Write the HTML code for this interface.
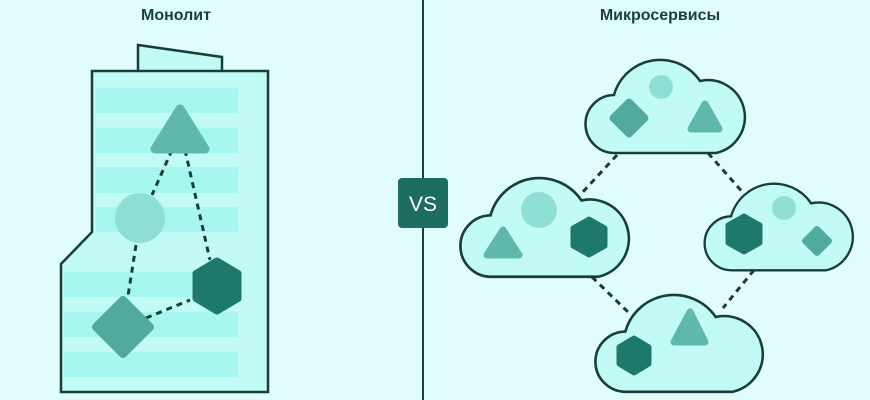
<!DOCTYPE html>
<html><head><meta charset="utf-8"><style>
html,body{margin:0;padding:0;background:#e1fdfb;}
svg{display:block}
</style></head><body>
<svg width="870" height="400" viewBox="0 0 870 400" xmlns="http://www.w3.org/2000/svg">
<rect width="870" height="400" fill="#e1fdfb"/>
<text x="176" y="20" text-anchor="middle" font-family="Liberation Sans, sans-serif" font-weight="bold" font-size="16" fill="#173f3a">Монолит</text>
<text x="660" y="20" text-anchor="middle" font-family="Liberation Sans, sans-serif" font-weight="bold" font-size="16" fill="#173f3a">Микросервисы</text>

<!-- monolith -->
<path d="M138,71 L138,45 L222,57 L222,71" fill="#c2fbf5" stroke="#173f3a" stroke-width="2.5"/>
<path d="M92,71 L268,71 L268,392 L61,392 L61,264 L92,232 Z" fill="#c2fbf5" stroke="#173f3a" stroke-width="2.5"/>
<g fill="#a6f7ef">
<rect x="96" y="88" width="142" height="25"/>
<rect x="96" y="128" width="142" height="25"/>
<rect x="96" y="167" width="142" height="26"/>
<rect x="96" y="207" width="142" height="25"/>
<rect x="64" y="272" width="174" height="25"/>
<rect x="64" y="312" width="174" height="25"/>
<rect x="64" y="352" width="174" height="25"/>
</g>
<g stroke="#173f3a" stroke-width="3" stroke-dasharray="6,5" fill="none">
<line x1="172" y1="150" x2="152" y2="195"/>
<line x1="185" y1="150" x2="210" y2="260"/>
<line x1="136" y1="245" x2="128" y2="296"/>
<line x1="146" y1="318" x2="190" y2="300"/>
</g>
<path d="M180,109 L205,149 L155,149 Z" fill="#5fb8ab" stroke="#5fb8ab" stroke-width="9" stroke-linejoin="round"/>
<circle cx="140" cy="218" r="25" fill="#8ee0d5"/>
<path d="M217,261 L238,273.5 L238,298.5 L217,311 L196,298.5 L196,273.5 Z" fill="#1e786c" stroke="#1e786c" stroke-width="7" stroke-linejoin="round"/>
<path d="M123,300 L150,327 L123,354 L96,327 Z" fill="#52a99d" stroke="#52a99d" stroke-width="8" stroke-linejoin="round"/>

<!-- divider -->
<line x1="423" y1="0" x2="423" y2="178" stroke="#173f3a" stroke-width="2"/>
<line x1="423" y1="228" x2="423" y2="400" stroke="#173f3a" stroke-width="2"/>
<rect x="398" y="178" width="50" height="50" rx="4" fill="#1e6d62"/>
<text x="423" y="211" text-anchor="middle" font-family="Liberation Sans, sans-serif" font-size="21" fill="#fff">VS</text>

<!-- connectors -->
<g stroke="#173f3a" stroke-width="3" stroke-dasharray="6,5" fill="none">
<line x1="617" y1="155" x2="580" y2="195"/>
<line x1="708" y1="153" x2="745" y2="195"/>
<line x1="592" y1="277" x2="628" y2="312"/>
<line x1="754" y1="270" x2="723" y2="308"/>
</g>

<defs>
<path id="cl" d="M28,96 A29,29 0 0 1 27,38 A48,48 0 0 1 113,24 A36,36 0 0 1 129,96 Z"/>
</defs>
<g fill="#c2fbf5" stroke="#173f3a" stroke-width="2.5">
<use href="#cl" transform="translate(587,57)"/>
<use href="#cl" transform="translate(462,175) scale(1.057,1.06)"/>
<use href="#cl" transform="translate(706,181) scale(0.93,0.93)"/>
<use href="#cl" transform="translate(597,292) scale(1.05,1.04)"/>
</g>

<!-- top cloud shapes -->
<circle cx="661" cy="87" r="12" fill="#8ee0d5"/>
<path d="M629,102 L645,118 L629,134 L613,118 Z" fill="#52a99d" stroke="#52a99d" stroke-width="7" stroke-linejoin="round"/>
<path d="M705,104 L719,129 L691,129 Z" fill="#5fb8ab" stroke="#5fb8ab" stroke-width="7" stroke-linejoin="round"/>
<!-- left cloud -->
<circle cx="539" cy="210" r="18" fill="#8ee0d5"/>
<path d="M503,230 L519,255 L487,255 Z" fill="#5fb8ab" stroke="#5fb8ab" stroke-width="7" stroke-linejoin="round"/>
<path d="M589,219 L605,228 L605,246 L589,255 L573,246 L573,228 Z" fill="#1e786c" stroke="#1e786c" stroke-width="5" stroke-linejoin="round"/>
<!-- right cloud -->
<circle cx="784" cy="208" r="12" fill="#8ee0d5"/>
<path d="M744,216 L760,225 L760,243 L744,252 L728,243 L728,225 Z" fill="#1e786c" stroke="#1e786c" stroke-width="5" stroke-linejoin="round"/>
<path d="M817,229 L829,241 L817,253 L805,241 Z" fill="#52a99d" stroke="#52a99d" stroke-width="6" stroke-linejoin="round"/>
<!-- bottom cloud -->
<path d="M690,312 L705,342 L674,342 Z" fill="#5fb8ab" stroke="#5fb8ab" stroke-width="7" stroke-linejoin="round"/>
<path d="M634,338 L649,347 L649,364 L634,373 L619,364 L619,347 Z" fill="#1e786c" stroke="#1e786c" stroke-width="5" stroke-linejoin="round"/>
</svg>
</body></html>
